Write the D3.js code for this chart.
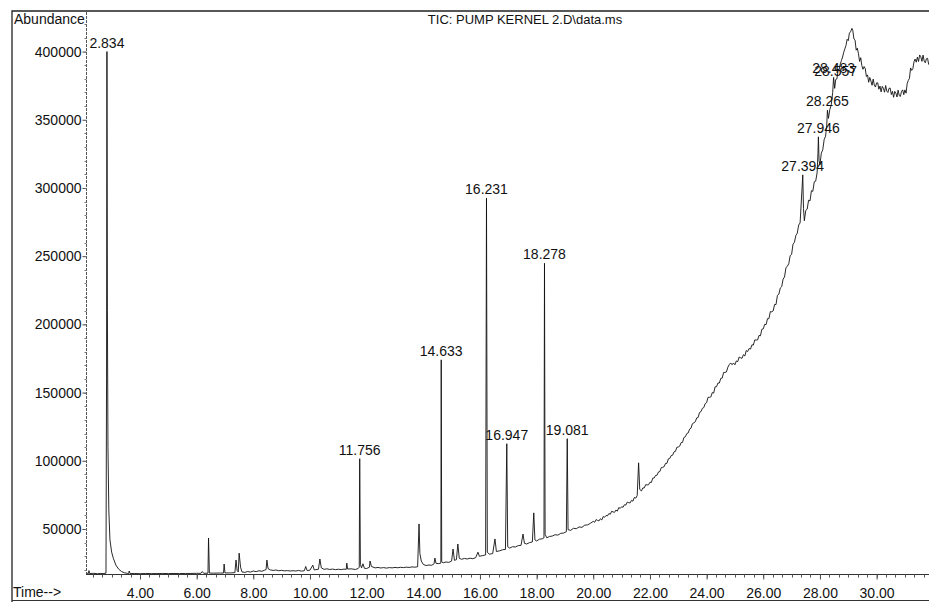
<!DOCTYPE html>
<html><head><meta charset="utf-8">
<script src="https://cdn.jsdelivr.net/npm/d3@7"></script>
<style>
html,body{margin:0;padding:0;background:#fff;}
text{font-family:"Liberation Sans",Arial,sans-serif;fill:#111;}
</style></head>
<body>
<svg id="c" width="929" height="602"></svg>
<script>
const title = "TIC: PUMP KERNEL 2.D\\data.ms";
const xTickValues = [4,6,8,10,12,14,16,18,20,22,24,26,28,30];
const yTickValues = [50000,100000,150000,200000,250000,300000,350000,400000];
const peakTimes = [2.834,11.756,14.633,16.231,16.947,18.278,19.081,27.394,27.946,28.265,28.483,28.557];
const peakApex  = [400000,101500,174000,292600,112500,244800,116200,309600,337500,357000,381000,379500];

const trace = [
[2.13,17600],[2.18,17400],[2.2,19500],[2.22,17300],[2.35,17500],[2.5,17200],[2.6,17400],[2.7,17300],[2.8,17600],
[2.82,160000],[2.834,400000],[2.85,210000],[2.87,110000],[2.9,64000],[2.94,42000],[3.0,33000],[3.06,28500],[3.15,23500],[3.25,20500],[3.35,18800],[3.45,17900],[3.55,17500],[3.6,17300],[3.62,19200],[3.65,17300],
[3.8,17400],[4.0,17200],[4.2,17400],[4.4,17300],[4.6,17300],[4.8,17400],[5.0,17300],[5.2,17400],[5.4,17300],[5.6,17400],[5.8,17400],[6.0,17500],[6.15,17500],[6.2,18800],[6.25,17500],[6.4,17600],[6.42,43400],[6.45,17700],[6.6,17600],[6.8,17700],[6.95,17700],[6.97,24300],[7.0,17800],[7.2,17800],[7.35,18000],[7.39,27200],[7.43,19500],[7.47,18500],[7.5,32300],[7.55,22000],[7.6,18500],[7.7,18200],[7.8,18800],[7.9,18400],[8.0,19200],[8.1,18700],[8.2,19400],[8.3,19000],[8.4,19800],[8.45,20200],[8.48,27200],[8.52,21000],[8.6,20000],[8.7,19600],[8.8,19900],[8.9,19400],[9.0,19700],[9.1,19300],[9.2,19500],[9.3,19200],[9.4,19400],[9.5,19200],[9.6,19600],[9.7,19100],[9.8,19400],[9.85,22500],[9.9,19500],[10.0,19800],[10.1,23500],[10.15,20000],[10.3,20500],
[10.35,28000],[10.4,21500],[10.5,20400],[10.6,20800],[10.7,20300],[10.8,20600],[10.9,20200],[11.0,20500],[11.1,20200],[11.2,20600],[11.28,20400],[11.3,25000],[11.33,20600],[11.45,20800],[11.6,20300],[11.7,21000],[11.74,22000],[11.756,101500],[11.78,24000],[11.82,21500],[11.87,24500],[11.92,21200],[12.0,21000],[12.1,22000],[12.12,26500],[12.17,22500],[12.3,21500],[12.4,21800],[12.5,21400],[12.6,21700],[12.7,21300],[12.8,21700],[12.9,21500],[13.0,21800],[13.1,21600],[13.2,21900],[13.3,21700],[13.4,22000],[13.5,21800],[13.6,22200],[13.7,22000],[13.8,22300],[13.85,53700],[13.88,32000],[13.93,26500],[14.0,24000],[14.1,23200],[14.2,23600],[14.3,23400],[14.38,24500],[14.41,28700],[14.45,24800],[14.55,24600],[14.62,25000],[14.633,174000],[14.65,26000],[14.7,25200],[14.8,25800],[14.9,25500],[15.0,26500],[15.05,35300],[15.1,27000],[15.17,27500],[15.22,39000],[15.27,28500],[15.35,27800],[15.45,28400],[15.55,28000],[15.65,28600],[15.75,28200],[15.85,29000],[15.93,33000],[15.98,30000],[16.1,30500],[16.2,31000],[16.231,292600],[16.26,33000],[16.33,31500],[16.45,32000],[16.53,42700],[16.58,33500],[16.7,34000],[16.8,34800],[16.9,35000],[16.947,112500],[16.98,37000],[17.05,36000],[17.15,37000],[17.25,36800],[17.35,37800],[17.45,38000],[17.52,46300],[17.57,39500],[17.65,39000],[17.75,40000],[17.85,40500],[17.9,61800],[17.94,42000],[18.0,41200],[18.1,42500],[18.2,42800],[18.26,43500],[18.278,244800],[18.3,46000],[18.36,43500],[18.45,44500],[18.55,44800],[18.65,45800],[18.75,45500],[18.85,46800],[18.95,47000],[19.05,48000],[19.081,116200],[19.11,49500],[19.2,49000],[19.3,50500],[19.4,50200],[19.5,51500],[19.6,51200],[19.7,52800],[19.8,53000],[19.9,54200],
[20.0,55600],[20.05,54900],[20.1,56900],[20.15,56300],[20.2,55900],[20.25,57500],[20.3,56600],[20.35,59100],[20.4,58600],[20.45,59900],[20.5,59600],[20.55,61300],[20.6,60800],[20.65,63000],[20.7,62500],[20.75,62200],[20.8,63900],[20.85,63100],[20.9,65700],[20.95,65100],[21.0,66300],[21.05,65900],[21.1,67800],[21.15,67500],[21.2,69700],[21.25,69300],[21.3,69100],[21.35,71000],[21.4,70400],[21.45,73100],[21.5,72600],[21.55,74500],[21.6,98500],[21.64,79000],
[21.7,77900],[21.75,80100],[21.8,80100],[21.85,82500],[21.9,82300],[21.95,82400],[22.0,84300],[22.05,84100],[22.1,87300],[22.15,87400],[22.2,89300],[22.25,89400],[22.3,91800],[22.35,92100],[22.4,95000],[22.45,95200],[22.5,95700],[22.55,98100],[22.6,98100],[22.65,101400],[22.7,101700],[22.75,103800],[22.8,104100],[22.85,106600],[22.9,106900],[22.95,109900],[23.0,110100],[23.05,110700],[23.1,113300],[23.15,113500],[23.2,117100],[23.25,117600],[23.3,119900],[23.35,120400],[23.4,123200],[23.45,123900],[23.5,127200],[23.55,127800],[23.6,128600],[23.65,131400],[23.7,131700],[23.75,135400],[23.8,136000],[23.85,138400],[23.9,139000],[23.95,141900],[24.0,142600],
[24.05,146500],[24.1,146500],[24.15,146800],[24.2,150000],[24.25,149600],[24.3,154200],[24.35,154300],[24.4,157000],[24.45,157000],[24.5,160400],[24.55,160600],[24.6,164700],[24.65,164800],[24.7,165100],[24.75,168600],[24.8,170500],[24.85,171700],[24.9,170400],[24.95,171700],[25.0,170400],[25.05,173200],[25.1,172700],[25.15,176100],[25.2,175500],[25.25,175100],[25.3,177800],[25.35,176800],[25.4,180800],[25.45,180100],[25.5,182300],[25.55,181900],[25.6,185000],[25.65,184800],[25.7,188600],[25.75,188500],[25.8,188600],[25.85,191900],[25.9,191600],[25.95,196400],[26.0,196700],
[26.05,200000],[26.1,199800],[26.15,204200],[26.2,204200],[26.25,209400],[26.3,209200],[26.35,209900],[26.4,214600],[26.45,214500],[26.5,221300],[26.55,222100],[26.6,226600],[26.65,227600],[26.7,233200],[26.75,234700],[26.8,241400],[26.85,242700],[26.9,244400],[26.95,250400],[27.0,251300],[27.05,258800],[27.1,260100],[27.15,265200],[27.2,266800],[27.25,272800],[27.3,274400],
[27.37,300000],[27.394,309600],[27.42,285000],[27.45,276000],[27.5,283500],[27.55,284500],[27.6,291000],[27.65,290500],[27.7,298000],[27.75,297500],[27.8,304500],[27.85,305000],[27.9,311000],[27.93,325000],[27.946,337500],[27.97,320000],[28.0,317000],[28.05,325500],[28.1,328000],[28.15,335500],[28.2,338000],[28.24,346000],[28.265,357000],[28.3,351000],[28.35,357500],[28.4,361000],[28.45,370000],[28.483,381000],[28.52,373000],[28.557,379500],
[28.6,380000],[28.64,386500],[28.68,387000],[28.72,391000],[28.76,393500],[28.8,396000],[28.84,399500],[28.88,402000],[28.92,404500],[28.96,409000],[29.0,408000],[29.04,413500],[29.08,414500],[29.13,417000],
[29.16,415500],[29.2,409200],[29.24,408400],[29.28,401000],[29.32,402500],[29.36,398400],[29.4,392800],[29.44,395500],[29.48,389700],[29.52,387000],[29.56,389000],[29.6,387500],[29.64,381700],[29.68,382900],[29.72,377500],[29.76,381000],[29.8,378400],[29.84,375300],[29.88,379800],[29.92,375400],[29.96,374000],[30.0,377000],[30.04,377100],[30.08,372400],[30.12,374700],[30.16,370400],[30.2,374500],[30.24,373100],[30.28,370200],[30.32,375100],[30.36,371000],[30.4,370000],[30.44,373100],[30.48,373200],[30.52,368500],[30.56,370800],[30.6,366500],[30.64,370800],[30.68,369500],[30.72,366700],[30.76,371700],[30.8,367700],[30.84,367100],[30.88,370800],[30.92,371900],[30.96,368400],[31.0,371900],[31.04,369500],[31.08,376500],[31.12,378900],[31.16,380300],[31.2,388000],[31.24,386200],[31.28,387500],[31.32,392500],[31.36,394500],[31.4,392200],[31.44,395900],[31.48,392700],[31.52,397500],[31.56,396200],[31.6,392800],[31.64,397400],[31.68,393000],[31.72,391800],[31.76,394800],[31.8,395000],[31.84,390400]
];

const svg = d3.select("#c");
const x = d3.scaleLinear().domain([2.13, 31.85]).range([87, 929]);
const y = d3.scaleLinear().domain([17000, 429000]).range([574, 12]);

// frame
svg.append("path").attr("d","M12,602 L12,11 L929,11").attr("fill","none").attr("stroke","#222").attr("stroke-width",1.3);
svg.append("line").attr("x1",12).attr("x2",929).attr("y1",600.5).attr("y2",600.5).attr("stroke","#333").attr("stroke-width",1.2);

svg.append("text").attr("x",14).attr("y",24).attr("font-size",14).text("Abundance");
svg.append("text").attr("x",525).attr("y",24).attr("font-size",13).attr("text-anchor","middle").text(title);
svg.append("text").attr("x",13).attr("y",597).attr("font-size",14).text("Time-->");

// y axis
const yAxis = d3.axisLeft(y).tickValues(yTickValues).tickSize(4).tickPadding(1).tickFormat(d3.format("d"));
const gy = svg.append("g").attr("transform","translate(86.5,0)").call(yAxis);
gy.select(".domain").remove();
gy.selectAll("text").attr("font-size",14).attr("font-family","Liberation Sans, Arial, sans-serif").attr("fill","#111");
gy.selectAll("line").attr("stroke","#444");
svg.append("line").attr("x1",86.5).attr("x2",86.5).attr("y1",12).attr("y2",574).attr("stroke","#555").attr("stroke-width",1).attr("stroke-dasharray","3,1");
const yMinor = d3.range(20000, 429000, 10000);
svg.append("g").selectAll("line").data(yMinor).join("line")
  .attr("x1",84.5).attr("x2",86.5).attr("y1",d=>Math.round(y(d))+0.5).attr("y2",d=>Math.round(y(d))+0.5).attr("stroke","#777");

// x axis
const xAxis = d3.axisBottom(x).tickValues(xTickValues).tickSize(5).tickPadding(9).tickFormat(d3.format(".2f"));
const gx = svg.append("g").attr("transform","translate(0,574.5)").call(xAxis);
gx.select(".domain").remove();
gx.selectAll("text").attr("font-size",14).attr("font-family","Liberation Sans, Arial, sans-serif").attr("fill","#111");
gx.selectAll("line").attr("stroke","#444");
svg.append("line").attr("x1",86).attr("x2",929).attr("y1",574.5).attr("y2",574.5).attr("stroke","#333");
const xMinor = d3.range(7, 96).map(k => k/3);
svg.append("g").selectAll("line").data(xMinor.filter(t => t > 2.13 && t < 31.85)).join("line")
  .attr("x1",d=>Math.round(x(d))+0.5).attr("x2",d=>Math.round(x(d))+0.5).attr("y1",574.5).attr("y2",577.5).attr("stroke","#555");

// trace
const line = d3.line().x(d => x(d[0])).y(d => y(d[1]));
svg.append("path").datum(trace).attr("d", line).attr("fill","none").attr("stroke","#111").attr("stroke-width",0.9).attr("stroke-linejoin","round");

// peak labels
svg.append("g").selectAll("text").data(peakTimes.map((t,i)=>({t, v:peakApex[i]}))).join("text")
  .attr("x", d => x(d.t)).attr("y", d => y(d.v) - 4)
  .attr("text-anchor","middle").attr("font-size",14)
  .text(d => d.t.toFixed(3));
</script>
</body></html>
